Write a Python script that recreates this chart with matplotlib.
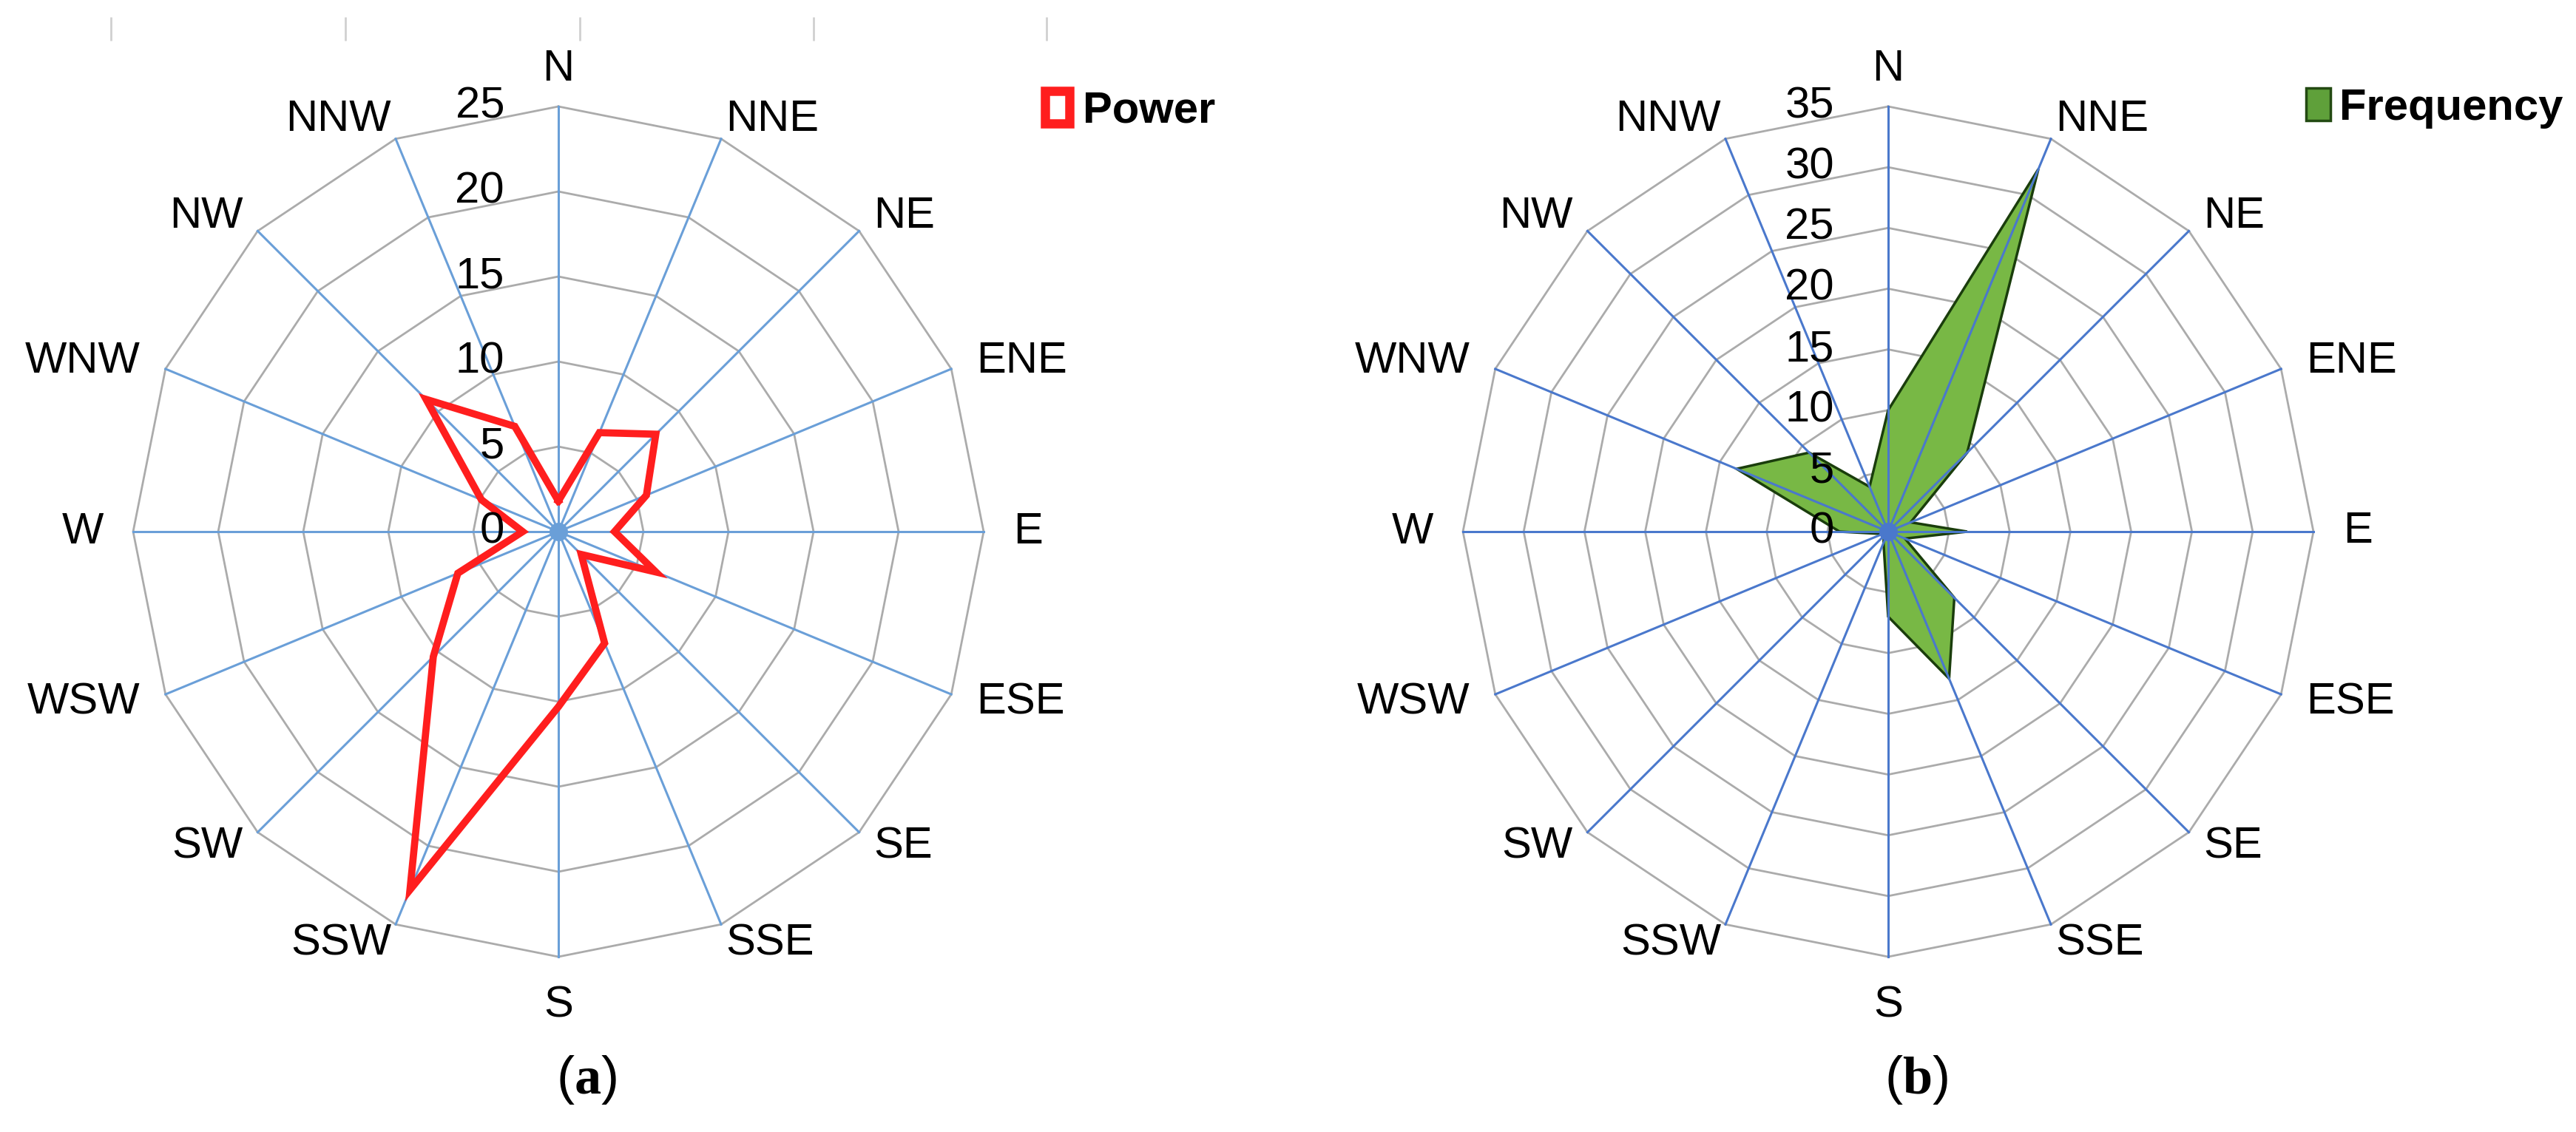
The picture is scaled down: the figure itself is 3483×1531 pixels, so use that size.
import numpy as np
import matplotlib.pyplot as plt
from matplotlib.patches import Patch

plt.rcParams['font.family'] = ['Liberation Sans', 'DejaVu Sans']
plt.rcParams['mathtext.fontset'] = 'custom'
plt.rcParams['mathtext.rm'] = 'Liberation Serif'
plt.rcParams['mathtext.bf'] = 'Liberation Serif:bold'

# wind directions, clockwise from north
directions = ['N', 'NNE', 'NE', 'ENE', 'E', 'ESE', 'SE', 'SSE',
              'S', 'SSW', 'SW', 'WSW', 'W', 'WNW', 'NW', 'NNW']
power = [1.8, 6.3, 8.1, 5.6, 3.3, 6.2, 1.9, 7.1,
         10.3, 22.8, 10.4, 6.4, 2.1, 4.9, 11.0, 6.7]
frequency = [10.0, 32.3, 9.2, 2.0, 6.5, 1.5, 7.7, 13.1,
             7.0, 1.0, 0.5, 0.5, 4.0, 13.5, 9.2, 4.0]
power_ticks = [0, 5, 10, 15, 20, 25]
freq_ticks = [0, 5, 10, 15, 20, 25, 30, 35]

W, H = 3483, 1531
fig = plt.figure(figsize=(W / 100, H / 100), dpi=100)

theta = np.arange(len(directions)) * 2 * np.pi / len(directions)
closed = np.append(theta, theta[0])
FS = 43


def radar(cx, cy, rad_px, ticks, spoke_col):
    rmax = ticks[-1]
    s = rad_px / rmax
    ax = fig.add_axes([0, 0, 1, 1])
    ax.set_xlim(-cx / s, (W - cx) / s)
    ax.set_ylim(-(H - cy) / s, cy / s)
    ax.axis('off')
    # polygon rings
    for t in ticks[1:]:
        ax.plot(t * np.sin(closed), t * np.cos(closed), color='#ABABAB', lw=2.0, zorder=1)
    # spokes
    for th in theta:
        ax.plot([0, rmax * np.sin(th)], [0, rmax * np.cos(th)], color=spoke_col, lw=2.2, zorder=3)
    ax.plot(0, 0, 'o', ms=17, color=spoke_col, zorder=3)
    # radial tick labels
    for t in ticks:
        ax.text(-73 / s, t, str(t), ha='right', va='center', fontsize=FS, zorder=5)
    # direction labels just outside the outer ring
    for th, lab in zip(theta, directions):
        sx, cs = np.sin(th), np.cos(th)
        vx, vy = rmax * sx, rmax * cs
        if cs > 0.99:
            ax.text(vx, vy + 35 / s, lab, ha='center', va='baseline', fontsize=FS)
        elif cs < -0.99:
            ax.text(vx, vy - 38 / s, lab, ha='center', va='top', fontsize=FS)
        else:
            dx = 40 * sx * sx / s * np.sign(sx)
            dy = 28 * cs / s
            ha = 'left' if sx > 0 else 'right'
            ax.text(vx + dx, vy + dy, lab, ha=ha, va='center', fontsize=FS)
    return ax


# (a) power
ax1 = radar(755, 719, 575, power_ticks, '#6A9FD8')
pv = np.append(power, power[0])
ax1.plot(pv * np.sin(closed), pv * np.cos(closed), color='#FF1E1E', lw=7,
         solid_joinstyle='miter', zorder=4)

# (b) frequency
ax2 = radar(2553, 719, 575, freq_ticks, '#4A78CC')
fv = np.append(frequency, frequency[0])
ax2.fill(fv * np.sin(closed), fv * np.cos(closed), facecolor='#78B845',
         edgecolor='#1A3D0C', lw=2.5, zorder=2)

# legends
fig.legend(handles=[Patch(facecolor='white', edgecolor='#FF1E1E', lw=9, label='Power')],
           loc='center left', bbox_to_anchor=(1413 / W, 1 - 150 / H), frameon=False,
           prop={'weight': 'bold', 'size': FS}, handlelength=0.55, handleheight=0.75,
           handletextpad=0.3, borderaxespad=0, borderpad=0)
fig.legend(handles=[Patch(facecolor='#5FA03A', edgecolor='#234A12', lw=2.5, label='Frequency')],
           loc='center left', bbox_to_anchor=(3118 / W, 1 - 146 / H), frameon=False,
           prop={'weight': 'bold', 'size': FS}, handlelength=0.55, handleheight=0.75,
           handletextpad=0.2, borderaxespad=0, borderpad=0)

# leftover tick marks along the top edge
top = fig.add_axes([0, 1 - 60 / H, 1, 60 / H])
top.set_xlim(0, W)
top.set_ylim(0, 60)
top.vlines([150, 467, 784, 1100, 1415], 5, 37, color='#D0D0D0', lw=2)
top.axis('off')

# captions
fig.text(793 / W, 1 - 1460 / H, r'($\mathbf{a}$)', ha='center', va='center', fontsize=52)
fig.text(2591 / W, 1 - 1460 / H, r'($\mathbf{b}$)', ha='center', va='center', fontsize=52)

fig.savefig('out.png', dpi=100, facecolor='white')
